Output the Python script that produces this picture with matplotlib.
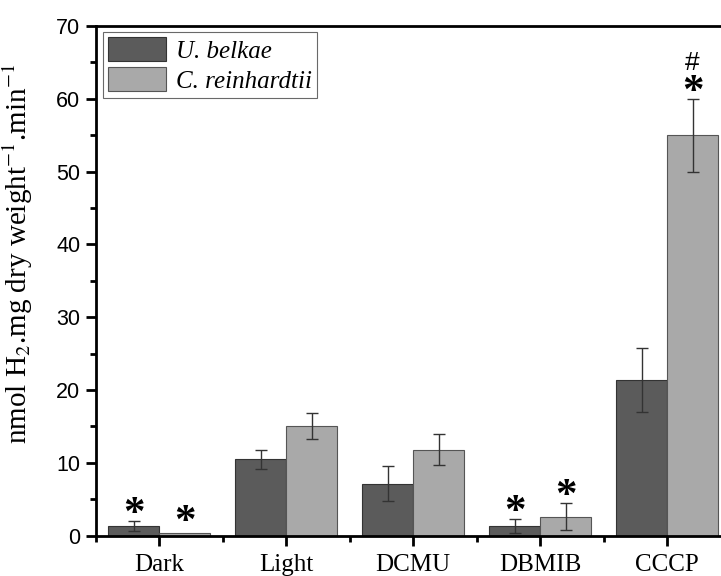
import matplotlib
matplotlib.use('Agg')
import matplotlib.pyplot as plt
import numpy as np
from matplotlib.ticker import MultipleLocator

plt.rcParams['mathtext.fontset'] = 'stix'

# values
categories = ['Dark', 'Light', 'DCMU', 'DBMIB', 'CCCP']
belkae = [1.3, 10.5, 7.1, 1.3, 21.4]
belkae_err = [0.65, 1.3, 2.4, 1.0, 4.4]
reinhardtii = [0.3, 15.0, 11.8, 2.6, 55.0]
reinhardtii_err = [0.0, 1.8, 2.1, 1.9, 5.0]

# significance marks by category index
marks_belkae = {0: '*', 3: '*'}
marks_reinhardtii = {0: '*', 3: '*', 4: '*'}

c_dark = '#5b5b5b'
c_light = '#a9a9a9'

fig = plt.figure(figsize=(7.21, 5.76), dpi=100)
ax = fig.add_axes([0.1327, 0.0703, 0.8807, 0.8846])

x = np.arange(1, len(categories) + 1)
w = 0.4
ax.bar(x - w / 2, belkae, w, color=c_dark, edgecolor='#333333', linewidth=0.8,
       label='U. belkae', zorder=2)
ax.bar(x + w / 2, reinhardtii, w, color=c_light, edgecolor='#555555', linewidth=0.8,
       label='C. reinhardtii', zorder=2)
ax.errorbar(x - w / 2, belkae, yerr=belkae_err, fmt='none', ecolor='#333333',
            elinewidth=1, capsize=4, capthick=1, zorder=3)
mask = np.array(reinhardtii_err) > 0
ax.errorbar((x + w / 2)[mask], np.array(reinhardtii)[mask],
            yerr=np.array(reinhardtii_err)[mask], fmt='none', ecolor='#333333',
            elinewidth=1, capsize=4, capthick=1, zorder=3)

star_font = dict(family='Liberation Serif', weight='bold', fontsize=31,
                 ha='center', va='baseline')
for i, t in marks_belkae.items():
    top = belkae[i] + belkae_err[i]
    ax.annotate(t, (x[i] - w / 2, top), xytext=(0, -3), textcoords='offset points', **star_font)
for i, t in marks_reinhardtii.items():
    top = reinhardtii[i] + reinhardtii_err[i]
    off = 0 if reinhardtii_err[i] == 0 else -3
    ax.annotate(t, (x[i] + w / 2, top), xytext=(0, off), textcoords='offset points', **star_font)
# hash above the CCCP asterisk
ax.annotate('#', (x[4] + w / 2, reinhardtii[4] + reinhardtii_err[4]), xytext=(0, 26),
            textcoords='offset points', ha='center', va='center',
            family='Liberation Sans', fontsize=19)

ax.set_xlim(0.5, 5.5)
ax.set_ylim(0, 70)
ax.set_xticks(x)
ax.set_xticklabels(categories, family='Liberation Serif', fontsize=18)
ax.xaxis.set_minor_locator(MultipleLocator(1, offset=0.5))
ax.yaxis.set_major_locator(MultipleLocator(10))
ax.yaxis.set_minor_locator(MultipleLocator(5))
for lab in ax.get_yticklabels():
    lab.set_family('Liberation Sans')
    lab.set_fontsize(15.5)

ax.tick_params(axis='both', which='major', direction='out', length=7, width=2, color='black')
ax.tick_params(axis='both', which='minor', direction='out', length=4, width=2, color='black')
ax.tick_params(axis='x', which='major', pad=6)
ax.tick_params(axis='y', which='major', pad=4)

for s in ['left', 'bottom', 'top']:
    ax.spines[s].set_linewidth(2)
ax.spines['right'].set_visible(False)

ax.set_ylabel('nmol H$_2$.mg dry weight$^{-1}$.min$^{-1}$', family='Liberation Serif',
              fontsize=21)
ax.yaxis.set_label_coords(-0.095, 0.552)

leg = ax.legend(loc='upper left', bbox_to_anchor=(0.012, 0.988),
                prop=dict(family='Liberation Serif', style='italic', size=18),
                frameon=True, fancybox=False, edgecolor='#444444', handlelength=2.3,
                handleheight=1.1, labelspacing=0.18, borderpad=0.2, handletextpad=0.4,
                borderaxespad=0)
leg.get_frame().set_linewidth(0.8)

fig.savefig('out.png', dpi=100)
